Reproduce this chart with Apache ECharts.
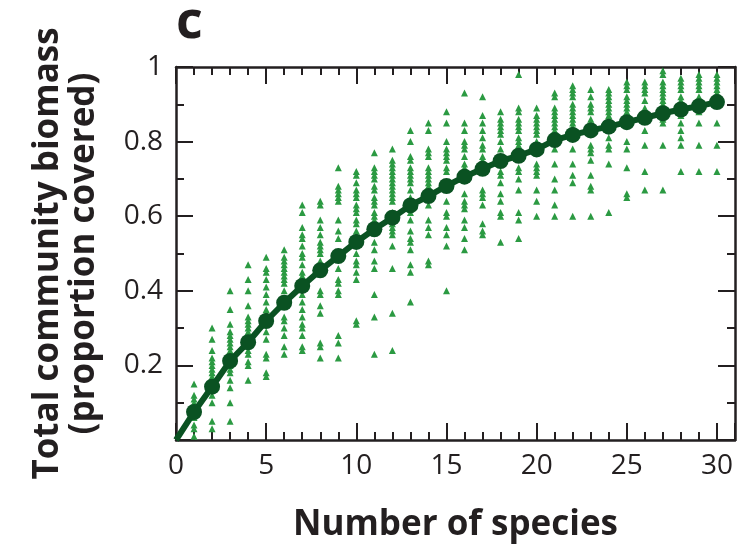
<!DOCTYPE html>
<html>
<head>
<meta charset="utf-8">
<script src="https://cdn.jsdelivr.net/npm/echarts@6/dist/echarts.min.js"></script>
<style>html,body{margin:0;padding:0;background:#fff;}#chart{width:752px;height:548px;}</style>
</head>
<body>
<div id="chart"></div>
<script>
// Number of species in each plot (x positions)
const speciesCounts = [1,2,3,4,5,6,7,8,9,10,11,12,13,14,15,16,17,18,19,20,21,22,23,24,25,26,27,28,29,30];
// Mean total community biomass for each species count
const meanBiomass = [0.075,0.143,0.212,0.262,0.319,0.368,0.413,0.455,0.493,0.531,0.565,0.596,0.629,0.654,0.681,0.706,0.727,0.748,0.762,0.779,0.804,0.818,0.830,0.840,0.852,0.864,0.876,0.886,0.895,0.906];
// Individual plot biomass values, one list per species count
const plotBiomass = [
  [0.15,0.12,0.11,0.10,0.09,0.08,0.07,0.06,0.04,0.03,0.01],
  [0.30,0.27,0.24,0.22,0.21,0.20,0.19,0.18,0.17,0.16,0.15,0.12,0.10,0.05,0.03],
  [0.40,0.35,0.31,0.29,0.28,0.27,0.26,0.25,0.24,0.23,0.22,0.21,0.20,0.19,0.18,0.16,0.14,0.10,0.05],
  [0.47,0.43,0.40,0.36,0.33,0.32,0.31,0.30,0.29,0.27,0.26,0.24,0.23,0.21,0.20,0.16],
  [0.49,0.46,0.45,0.43,0.41,0.39,0.37,0.35,0.34,0.32,0.29,0.27,0.23,0.22,0.18,0.17],
  [0.51,0.49,0.48,0.47,0.46,0.45,0.44,0.43,0.42,0.40,0.38,0.36,0.33,0.32,0.30,0.28,0.25,0.23],
  [0.63,0.61,0.57,0.55,0.54,0.52,0.50,0.49,0.47,0.45,0.44,0.43,0.39,0.37,0.35,0.33,0.31,0.30,0.28,0.25,0.24],
  [0.64,0.63,0.59,0.57,0.55,0.53,0.52,0.51,0.50,0.48,0.47,0.40,0.39,0.36,0.34,0.26,0.25,0.22],
  [0.73,0.68,0.67,0.66,0.65,0.64,0.59,0.56,0.54,0.50,0.46,0.43,0.42,0.40,0.39,0.28,0.26,0.22],
  [0.72,0.71,0.69,0.67,0.66,0.65,0.63,0.62,0.61,0.59,0.58,0.56,0.55,0.54,0.50,0.48,0.47,0.45,0.43,0.32,0.31],
  [0.77,0.73,0.72,0.71,0.70,0.68,0.67,0.65,0.64,0.63,0.61,0.60,0.59,0.58,0.53,0.51,0.48,0.46,0.39,0.33,0.23],
  [0.78,0.75,0.74,0.73,0.72,0.71,0.70,0.69,0.68,0.67,0.66,0.65,0.64,0.61,0.58,0.57,0.56,0.55,0.52,0.46,0.34,0.24],
  [0.83,0.80,0.76,0.75,0.73,0.72,0.71,0.70,0.69,0.67,0.65,0.63,0.62,0.61,0.59,0.56,0.54,0.53,0.51,0.47,0.45,0.37],
  [0.85,0.83,0.78,0.77,0.76,0.73,0.72,0.71,0.70,0.69,0.68,0.65,0.63,0.59,0.57,0.55,0.48,0.47],
  [0.88,0.85,0.80,0.78,0.77,0.76,0.75,0.73,0.72,0.69,0.64,0.61,0.60,0.57,0.55,0.52,0.40],
  [0.93,0.85,0.83,0.80,0.79,0.78,0.76,0.74,0.73,0.72,0.70,0.66,0.64,0.63,0.62,0.59,0.57,0.54,0.51],
  [0.92,0.87,0.85,0.83,0.81,0.79,0.78,0.76,0.75,0.72,0.67,0.66,0.65,0.63,0.58,0.56,0.55],
  [0.88,0.86,0.85,0.84,0.83,0.82,0.80,0.78,0.74,0.72,0.71,0.69,0.66,0.64,0.61,0.60,0.53],
  [0.98,0.89,0.88,0.86,0.85,0.84,0.83,0.81,0.80,0.79,0.77,0.73,0.72,0.70,0.67,0.61,0.59,0.54],
  [0.89,0.87,0.86,0.85,0.84,0.83,0.82,0.80,0.78,0.77,0.74,0.73,0.72,0.71,0.67,0.64,0.60],
  [0.93,0.92,0.89,0.88,0.87,0.86,0.85,0.84,0.83,0.81,0.78,0.74,0.70,0.67,0.63,0.60],
  [0.95,0.94,0.93,0.92,0.90,0.89,0.88,0.87,0.86,0.85,0.84,0.82,0.78,0.74,0.71,0.69,0.60],
  [0.94,0.92,0.90,0.89,0.88,0.86,0.85,0.84,0.79,0.78,0.77,0.75,0.71,0.68,0.67,0.60],
  [0.94,0.93,0.92,0.91,0.90,0.89,0.88,0.87,0.85,0.81,0.79,0.78,0.74,0.61],
  [0.96,0.95,0.94,0.92,0.91,0.90,0.89,0.88,0.86,0.80,0.78,0.73,0.66,0.65],
  [0.96,0.95,0.94,0.93,0.91,0.89,0.88,0.87,0.83,0.79,0.72,0.67],
  [0.99,0.98,0.96,0.95,0.94,0.93,0.92,0.91,0.90,0.88,0.86,0.85,0.79,0.67],
  [0.97,0.96,0.95,0.94,0.92,0.91,0.90,0.89,0.87,0.85,0.83,0.81,0.79,0.72],
  [0.98,0.97,0.96,0.95,0.94,0.92,0.91,0.90,0.88,0.85,0.79,0.72],
  [0.98,0.97,0.96,0.95,0.94,0.93,0.92,0.90,0.85,0.79,0.72]
];
const xTickLabels = ['0','5','10','15','20','25','30'];
const yTickLabels = ['0.2','0.4','0.6','0.8','1'];

const scatterData = [];
speciesCounts.forEach((n, i) => plotBiomass[i].forEach(v => scatterData.push([n, v])));
const lineData = [{value: [0, 0], symbol: 'none'}].concat(speciesCounts.map((n, i) => [n, meanBiomass[i]]));

const ink = '#231f20';
const font = '"Open Sans", "Noto Sans", sans-serif';
const X_MIN = 0, X_MAX = 31, Y_MIN = 0, Y_MAX = 1;

function xAxis(pos, interval, tickLen, withLine, withLabels) {
  return {
    type: 'value', position: pos, min: X_MIN, max: X_MAX, interval: interval,
    axisLine: {show: withLine, onZero: false, lineStyle: {color: ink, width: 2.5}},
    axisTick: {show: true, inside: true, length: tickLen, lineStyle: {color: ink, width: 2}},
    axisLabel: {show: withLabels, margin: 12, color: ink, fontFamily: font, fontSize: 28,
      formatter: v => xTickLabels.indexOf(String(v)) >= 0 ? String(v) : ''},
    splitLine: {show: false},
    name: withLabels ? 'Number of species' : '', nameLocation: 'middle', nameGap: 68,
    nameTextStyle: {color: ink, fontFamily: font, fontWeight: 'bold', fontSize: 35}
  };
}
function yAxis(pos, interval, tickLen, withLine, withLabels) {
  return {
    type: 'value', position: pos, min: Y_MIN, max: Y_MAX, interval: interval,
    axisLine: {show: withLine, onZero: false, lineStyle: {color: ink, width: 2.5}},
    axisTick: {show: true, inside: true, length: tickLen, lineStyle: {color: ink, width: 2}},
    axisLabel: {show: withLabels, margin: 13, color: ink, fontFamily: font, fontSize: 28,
      formatter: v => { const s = (Math.round(v * 10) / 10).toString(); return yTickLabels.indexOf(s) >= 0 ? s : ''; }},
    splitLine: {show: false},
    name: withLabels ? 'Total community biomass\n(proportion covered)' : '', nameLocation: 'middle', nameGap: 74, nameRotate: 90,
    nameTextStyle: {color: ink, fontFamily: font, fontWeight: 'bold', fontSize: 35, lineHeight: 36}
  };
}

const chart = echarts.init(document.getElementById('chart'), null, {renderer: 'canvas'});
chart.setOption({
  animation: false,
  backgroundColor: '#ffffff',
  title: {text: 'c', left: 171, top: -8, textStyle: {color: ink, fontFamily: font, fontWeight: 'bold', fontSize: 52}},
  grid: {left: 176, right: 17, top: 67, bottom: 107, containLabel: false},
  xAxis: [
    xAxis('bottom', 1, 8, true, true),
    xAxis('bottom', 5, 17, false, false),
    xAxis('top', 1, 8, true, false),
    xAxis('top', 5, 17, false, false)
  ],
  yAxis: [
    yAxis('left', 0.1, 8, true, false),
    yAxis('left', 0.2, 17, false, true),
    yAxis('right', 0.1, 8, true, false),
    yAxis('right', 0.2, 17, false, false)
  ],
  series: [
    {type: 'scatter', xAxisIndex: 0, yAxisIndex: 0, data: scatterData, symbol: 'triangle', symbolSize: 7,
      itemStyle: {color: '#2b9a42', opacity: 1}, z: 2},
    {type: 'line', xAxisIndex: 0, yAxisIndex: 0, data: lineData, symbol: 'circle', symbolSize: 16, showSymbol: true,
      lineStyle: {color: '#0a5222', width: 6}, itemStyle: {color: '#0a5222', borderWidth: 0, opacity: 1}, z: 3}
  ]
});
</script>
</body>
</html>
